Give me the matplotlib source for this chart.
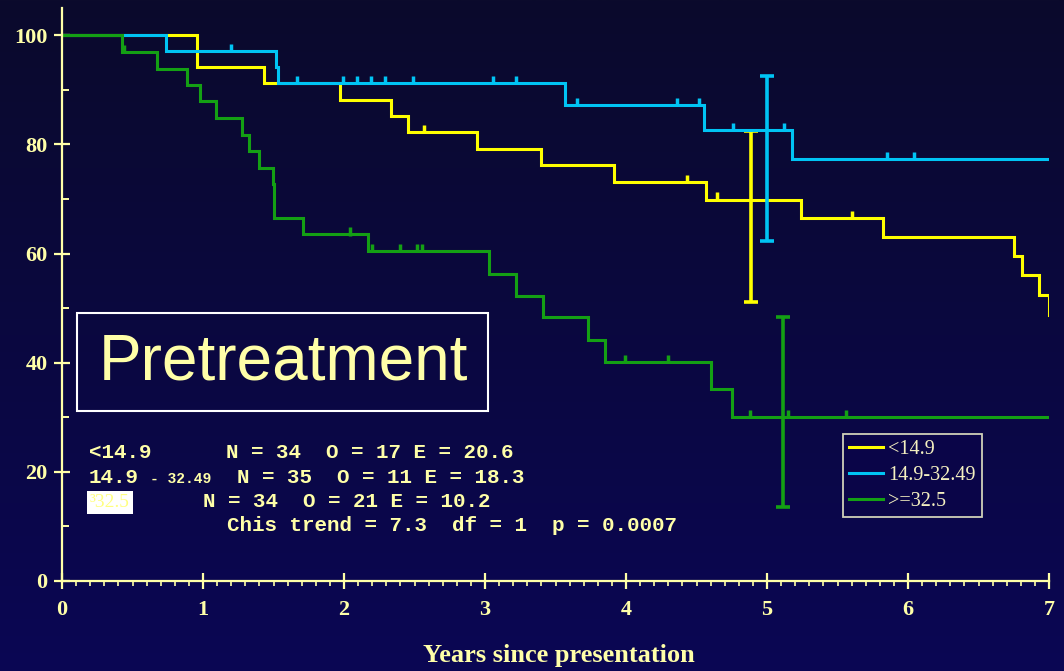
import numpy as np
import matplotlib
matplotlib.use("Agg")
import matplotlib.pyplot as plt
from matplotlib.lines import Line2D
from matplotlib.patches import Rectangle

# Kaplan-Meier curves: step times (years) and survival (%)
t_low = [0, 0.957, 1.43, 1.97, 2.33, 2.456, 2.94, 3.40, 3.915, 4.567, 5.24, 5.82, 6.75, 6.81, 6.93, 7.0]
s_low = [100, 94.1, 91.2, 88.2, 85.2, 82.3, 79.2, 76.2, 73.1, 69.9, 66.5, 63.1, 59.5, 56.0, 52.5, 48.7]
t_mid = [0, 0.735, 1.515, 1.53, 3.57, 4.55, 5.18, 7.0]
s_mid = [100, 97.1, 94.2, 91.2, 87.2, 82.6, 77.4, 77.4]
t_high = [0, 0.428, 0.676, 0.887, 0.98, 1.09, 1.28, 1.326, 1.40, 1.494, 1.50, 1.505, 1.71,
          2.17, 3.03, 3.22, 3.41, 3.733, 3.853, 4.60, 4.75, 7.0]
s_high = [100, 97.0, 93.9, 90.9, 87.9, 84.8, 81.8, 78.8, 75.7, 72.7, 69.6, 66.6, 63.5,
          60.4, 56.3, 52.3, 48.3, 44.2, 40.2, 35.1, 30.0, 30.0]

# censored observations
c_low = [2.57, 4.43, 4.645, 5.60]
c_mid = [1.20, 1.67, 1.99, 2.09, 2.19, 2.29, 2.49, 3.06, 3.22, 3.65, 4.36, 4.52, 4.76, 5.12, 5.85, 6.04]
c_high = [0.44, 2.04, 2.20, 2.40, 2.52, 2.555, 3.99, 4.30, 4.88, 5.15, 5.56]

# confidence intervals: (time, lower, upper)
ci_low = (4.89, 51.2, 82.4)
ci_mid = (5.00, 62.3, 92.5)
ci_high = (5.11, 13.5, 48.4)

labels = ["<14.9", "14.9-32.49", ">=32.5"]
colors = ["#ffff00", "#00c4f4", "#14a014"]
pale = "#ffffa8"

fig = plt.figure(figsize=(10.64, 6.71), dpi=100)

# navy gradient background
bg = fig.add_axes([0, 0, 1, 1], zorder=-10)
grad = np.linspace(0, 1, 256).reshape(-1, 1)
top = np.array([11, 10, 44]) / 255
bot = np.array([10, 6, 84]) / 255
img = top + (bot - top) * grad[..., None]
bg.imshow(img, aspect="auto", extent=[0, 1, 0, 1], origin="upper")
bg.axis("off")

ax = fig.add_axes([62 / 1064, 90 / 671, 987 / 1064, 573 / 671])
ax.patch.set_alpha(0)


def surv_at(t, times, vals):
    i = np.searchsorted(times, t, side="right") - 1
    return np.array(vals)[i]


series = [(t_low, s_low, c_low, ci_low), (t_mid, s_mid, c_mid, ci_mid), (t_high, s_high, c_high, ci_high)]
for (t, s, cens, ci), col in zip(series, colors):
    ax.step(t, s, where="post", color=col, lw=2.2, solid_joinstyle="miter")
    cs = surv_at(np.array(cens), t, s)
    ax.vlines(cens, cs - 0.2, cs + 1.3, color=col, lw=2.5)
    tc, lo, hi = ci
    ax.errorbar([tc], [(lo + hi) / 2], yerr=[(hi - lo) / 2], fmt="none", ecolor=col,
                elinewidth=2.6, capsize=5, capthick=2.6)

ax.set_xlim(0, 7)
ax.set_ylim(0, 105)
ax.set_xticks(range(0, 8))
ax.set_xticks(np.arange(0, 7.01, 0.1), minor=True)
ax.set_yticks(range(0, 101, 20))
ax.set_yticks(range(0, 101, 10), minor=True)
for side in ["top", "right"]:
    ax.spines[side].set_visible(False)
for side in ["left", "bottom"]:
    ax.spines[side].set_color(pale)
    ax.spines[side].set_linewidth(1.6)

ax.tick_params(which="major", direction="inout", length=11, width=1.6, color=pale,
               labelcolor=pale, labelsize=16)
ax.tick_params(axis="x", which="major", pad=8)
ax.tick_params(axis="y", which="major", pad=5)
ax.tick_params(axis="y", which="minor", direction="in", length=5, width=1.4, color=pale)
ax.tick_params(axis="x", which="minor", direction="out", length=3.5, width=1.2, color=pale)
for lab in ax.get_xticklabels() + ax.get_yticklabels():
    lab.set_fontfamily("Liberation Serif")
    lab.set_fontweight("bold")

fig.text(559 / 1064, 1 - 662 / 671, "Years since presentation", ha="center", va="baseline",
         fontsize=19, fontweight="bold", family="Liberation Serif", color=pale)

# title box
fig.patches.append(Rectangle((77 / 1064, 1 - 411 / 671), 411 / 1064, 98 / 671,
                             transform=fig.transFigure, fill=False, ec="white", lw=1.5))
fig.text(283 / 1064, 1 - 362 / 671, "Pretreatment", ha="center", va="center",
         fontsize=46, family="Liberation Sans", color=pale)


# log-rank summary
def px(x, y):
    return x / 1064, 1 - y / 671


mono = dict(family="Liberation Mono", fontweight="bold", color=pale, va="baseline", fontsize=15)
fig.text(*px(89, 458), "<14.9", **mono)
fig.text(*px(226, 458), "N = 34  O = 17 E = 20.6", **mono)
fig.text(*px(89, 483), "14.9", **mono)
fig.text(*px(150, 483), "- 32.49", **{**mono, "fontsize": 10.5})
fig.text(*px(237, 483), "N = 35  O = 11 E = 18.3", **mono)
fig.text(*px(90, 507), "³32.5", family="Liberation Serif", fontsize=14, color="#ffff80",
         va="baseline", bbox=dict(boxstyle="square,pad=0.15", fc="white", ec="none"))
fig.text(*px(203, 507), "N = 34  O = 21 E = 10.2", **mono)
fig.text(*px(227, 531), "Chis trend = 7.3  df = 1  p = 0.0007", **mono)

handles = [Line2D([], [], color=c, lw=2.2) for c in colors]
leg = ax.legend(handles, labels, loc="upper left", bbox_to_anchor=px(843, 434),
                bbox_transform=fig.transFigure, borderaxespad=0, fancybox=False,
                framealpha=1, facecolor="#0a0548", edgecolor="#d0d0b8",
                prop=dict(family="Liberation Serif", size=14.5), labelcolor="#f4f0c0",
                handlelength=1.7, handletextpad=0.25, labelspacing=0.35, borderpad=0.3)
leg.get_frame().set_linewidth(1.3)

fig.savefig("out.png", dpi=100)
